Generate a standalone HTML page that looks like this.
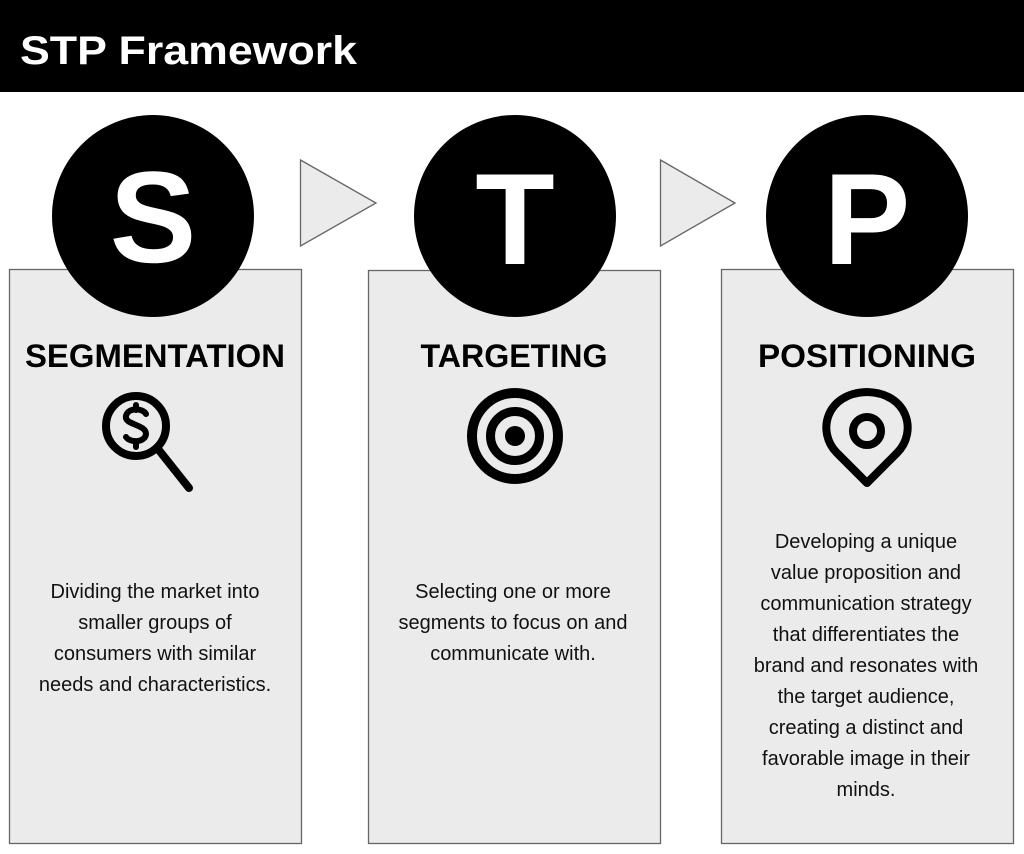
<!DOCTYPE html>
<html><head><style>
body{margin:0;background:#fff}
svg{display:block}
text{font-family:"Liberation Sans",sans-serif}
</style></head><body>
<svg width="1024" height="854" viewBox="0 0 1024 854">
<rect x="0" y="0" width="1024" height="92" fill="#000"/>
<text x="20" y="64" fill="#fff" font-size="40" font-weight="bold" textLength="337" lengthAdjust="spacingAndGlyphs">STP Framework</text>
<g fill="#ebebeb" stroke="#666" stroke-width="1.3">
<rect x="9.5" y="269.5" width="292" height="574"/>
<rect x="368.5" y="270.5" width="292" height="573"/>
<rect x="721.5" y="269.5" width="292" height="574"/>
<polygon points="300.5,160 376,203 300.5,246"/>
<polygon points="660.5,160 735,203 660.5,246"/>
</g>
<g fill="#000">
<circle cx="153" cy="216" r="101"/>
<circle cx="515" cy="216" r="101"/>
<circle cx="867" cy="216" r="101"/>
</g>
<g fill="#fff" font-weight="bold" font-size="130" text-anchor="middle">
<text x="153" y="262">S</text>
<text x="515" y="264">T</text>
<text x="867" y="264">P</text>
</g>
<g font-weight="bold" font-size="32" text-anchor="middle" fill="#000">
<text x="155" y="367" textLength="260" lengthAdjust="spacingAndGlyphs">SEGMENTATION</text>
<text x="514" y="367" textLength="187" lengthAdjust="spacingAndGlyphs">TARGETING</text>
<text x="867" y="367" textLength="218" lengthAdjust="spacingAndGlyphs">POSITIONING</text>
</g>
<!-- magnifier -->
<g fill="none" stroke="#000" stroke-width="8" stroke-linecap="round">
<circle cx="136" cy="426" r="30"/>
<line x1="158" y1="449" x2="189" y2="488"/>
<path d="M146,414 C143,408 128,407 126,416 C124,425 146,424 146,434 C145,443 130,443 126,437" stroke-width="6"/>
<line x1="136" y1="405" x2="136" y2="410" stroke-width="6"/>
<line x1="136" y1="442" x2="136" y2="447" stroke-width="6"/>
</g>
<!-- target -->
<g fill="none" stroke="#000">
<circle cx="515" cy="436" r="43" stroke-width="10"/>
<circle cx="515" cy="436" r="24.5" stroke-width="9"/>
</g>
<circle cx="515" cy="436" r="10" fill="#000"/>
<!-- pin -->
<g fill="none" stroke="#000" stroke-width="8" stroke-linejoin="round">
<path d="M867,483 L837,453 C816,432 826,393 867,392 C908,393 918,432 897,453 Z"/>
<circle cx="867" cy="431" r="14"/>
</g>
<g font-size="20" text-anchor="middle" fill="#111">
<text x="155" y="598">Dividing the market into</text>
<text x="155" y="629">smaller groups of</text>
<text x="155" y="660">consumers with similar</text>
<text x="155" y="691">needs and characteristics.</text>
<text x="513" y="598">Selecting one or more</text>
<text x="513" y="629">segments to focus on and</text>
<text x="513" y="660">communicate with.</text>
<text x="866" y="548">Developing a unique</text>
<text x="866" y="579">value proposition and</text>
<text x="866" y="610">communication strategy</text>
<text x="866" y="641">that differentiates the</text>
<text x="866" y="672">brand and resonates with</text>
<text x="866" y="703">the target audience,</text>
<text x="866" y="734">creating a distinct and</text>
<text x="866" y="765">favorable image in their</text>
<text x="866" y="796">minds.</text>
</g>
</svg>
</body></html>
